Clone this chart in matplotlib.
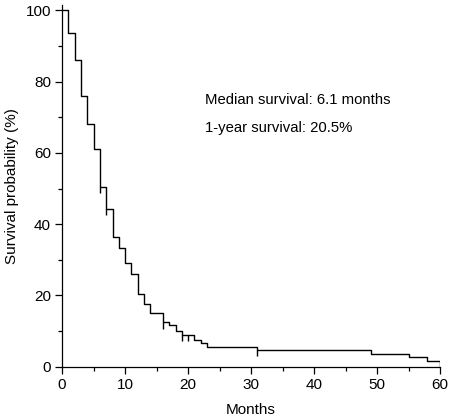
import matplotlib
matplotlib.use('Agg')
from matplotlib import pyplot as plt
from matplotlib.ticker import MultipleLocator

plt.rcParams['font.family'] = ['Liberation Sans', 'DejaVu Sans']

# Kaplan-Meier steps (months, survival %)
times = [0, 1, 2, 3, 4, 5, 6, 7, 8, 9, 10, 11, 12, 13, 14, 16, 17, 18, 19,
         21, 22, 23, 31, 49, 55, 58, 60]
surv = [100, 93.7, 86.1, 76, 68, 61, 50.5, 44.2, 36.3, 33.2, 29, 26, 20.5,
        17.6, 15, 12.4, 11.6, 10, 8.8, 7.5, 6.6, 5.6, 4.6, 3.6, 2.8, 1.7, 0]

# censored observations
cens_t = [6, 7, 16, 19, 20, 31]
cens_s = [50.5, 44.2, 12.4, 8.8, 8.8, 4.6]

fig = plt.figure(figsize=(4.5, 4.2), dpi=100)
ax = fig.add_axes([0.138, 0.127, 0.84, 0.861])

ax.step(times, surv, where='post', color='black', lw=1.0)
ax.vlines(cens_t, [s - 1.7 for s in cens_s], cens_s, color='black', lw=1.0)

ax.set_xlim(0, 60)
ax.set_ylim(0, 101.5)
ax.xaxis.set_major_locator(MultipleLocator(10))
ax.xaxis.set_minor_locator(MultipleLocator(5))
ax.yaxis.set_major_locator(MultipleLocator(20))
ax.yaxis.set_minor_locator(MultipleLocator(10))
ax.tick_params(which='major', direction='out', length=5, width=0.9, labelsize=11, pad=3)
ax.tick_params(which='minor', direction='out', length=3, width=0.9)

for side in ['top', 'right']:
    ax.spines[side].set_visible(False)
for side in ['left', 'bottom']:
    ax.spines[side].set_linewidth(0.9)

ax.set_xlabel('Months', fontsize=11, labelpad=8)
ax.set_ylabel('Survival probability (%)', fontsize=11, labelpad=5)

ax.text(22.7, 74.8, 'Median survival: 6.1 months', fontsize=10.7, va='center')
ax.text(22.7, 67, '1-year survival: 20.5%', fontsize=10.7, va='center')

fig.savefig('out.png', dpi=100)
